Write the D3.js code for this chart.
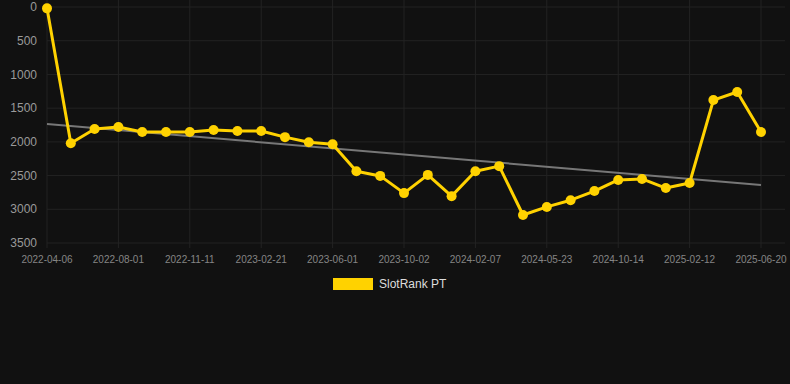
<!DOCTYPE html>
<html>
<head>
<meta charset="utf-8">
<script src="https://cdn.jsdelivr.net/npm/d3@7"></script>
<style>
  html, body { margin: 0; padding: 0; background: #111111; }
  svg { display: block; font-family: "Liberation Sans", Arial, sans-serif; }
</style>
</head>
<body>
<div id="chart"></div>
<script>
// dates of each observation (every 3rd one is shown as a tick)
var dates = [
  "2022-04-06", "d1", "d2", "2022-08-01", "d4", "d5", "2022-11-11", "d7", "d8",
  "2023-02-21", "d10", "d11", "2023-06-01", "d13", "d14", "2023-10-02", "d16", "d17",
  "2024-02-07", "d19", "d20", "2024-05-23", "d22", "d23", "2024-10-14", "d25", "d26",
  "2025-02-12", "d28", "d29", "2025-06-20"
];
var rankValues = [
  20, 2020, 1810, 1780, 1855, 1855, 1855, 1825, 1840, 1840,
  1930, 2005, 2035, 2435, 2505, 2760, 2490, 2805, 2435, 2360,
  3085, 2965, 2865, 2730, 2565, 2550, 2685, 2610, 1380, 1260, 1855
];
var trendValues = [1735, 2640];
var yTicks = [0, 500, 1000, 1500, 2000, 2500, 3000, 3500];
var seriesName = "SlotRank PT";

var width = 790, height = 384;
var margin = {top: 7, right: 29, bottom: 141, left: 47};

var svg = d3.select("#chart").append("svg")
  .attr("width", width)
  .attr("height", height);

svg.append("rect").attr("width", width).attr("height", height).attr("fill", "#111111");

var xScale = d3.scalePoint()
  .domain(d3.range(dates.length))
  .range([margin.left, width - margin.right]);

var yScale = d3.scaleLinear()
  .domain([0, 3500])
  .range([margin.top, height - margin.bottom]);

var tickIdx = d3.range(0, dates.length, 3);

// grid
var grid = svg.append("g");
grid.selectAll(".hgrid").data(yTicks).enter().append("line")
  .attr("x1", margin.left).attr("x2", 785)
  .attr("y1", function(d) { return yScale(d); })
  .attr("y2", function(d) { return yScale(d); })
  .attr("stroke", "#232323").attr("stroke-width", 1);
grid.selectAll(".vgrid").data(tickIdx).enter().append("line")
  .attr("x1", function(d) { return xScale(d); })
  .attr("x2", function(d) { return xScale(d); })
  .attr("y1", 0).attr("y2", yScale(3500) + 5)
  .attr("stroke", "#232323").attr("stroke-width", 1);

// y axis labels
svg.append("g").selectAll("text").data(yTicks).enter().append("text")
  .attr("x", 37)
  .attr("y", function(d) { return yScale(d); })
  .attr("dy", "0.35em")
  .attr("text-anchor", "end")
  .attr("fill", "#9a9a9a")
  .style("font-size", "12px")
  .text(function(d) { return d; });

// x axis labels
svg.append("g").selectAll("text").data(tickIdx).enter().append("text")
  .attr("x", function(d) { return xScale(d); })
  .attr("y", 259)
  .attr("dy", "0.35em")
  .attr("text-anchor", "middle")
  .attr("fill", "#858585")
  .style("font-size", "10px")
  .text(function(d) { return dates[d]; });

// trend line
svg.append("line")
  .attr("x1", xScale(0)).attr("x2", xScale(dates.length - 1))
  .attr("y1", yScale(trendValues[0])).attr("y2", yScale(trendValues[1]))
  .attr("stroke", "#777777").attr("stroke-width", 2);

// series line
var line = d3.line()
  .x(function(d, i) { return xScale(i); })
  .y(function(d) { return yScale(d); });

svg.append("path")
  .datum(rankValues)
  .attr("d", line)
  .attr("fill", "none")
  .attr("stroke", "#ffd200")
  .attr("stroke-width", 3)
  .attr("stroke-linejoin", "round");

svg.append("g").selectAll("circle").data(rankValues).enter().append("circle")
  .attr("cx", function(d, i) { return xScale(i); })
  .attr("cy", function(d) { return yScale(d); })
  .attr("r", 5)
  .attr("fill", "#ffd200");

// legend
var legend = svg.append("g");
legend.append("rect")
  .attr("x", 333).attr("y", 278).attr("width", 40).attr("height", 12)
  .attr("fill", "#ffd200");
legend.append("text")
  .attr("x", 379).attr("y", 284).attr("dy", "0.35em")
  .attr("fill", "#dddddd")
  .style("font-size", "12px")
  .text(seriesName);
</script>
</body>
</html>
